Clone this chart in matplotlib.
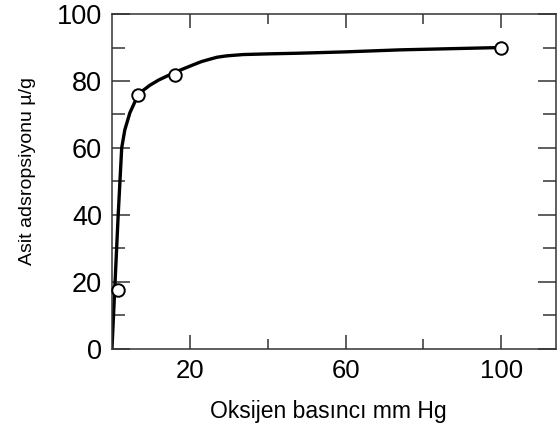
import matplotlib
matplotlib.use("Agg")
import matplotlib.pyplot as plt
from matplotlib.ticker import FixedLocator

plt.rcParams['font.family'] = ['Liberation Sans', 'DejaVu Sans']

# Fitted curve
curve_x = [0, 0.8, 1.6, 2.05, 2.5, 3.3, 4.6, 5.9, 6.7, 8, 9.7, 12, 14, 17, 20.8, 23, 25.1,
           27, 29.4, 33.7, 40, 48, 60, 74, 100]
curve_y = [0, 20, 40, 50, 60, 65.4, 70.5, 73.8, 75.4, 77.2, 78.7, 80.3, 81.4, 83.0, 84.8, 85.8, 86.5,
           87.1, 87.5, 87.9, 88.1, 88.3, 88.7, 89.3, 90]

# Measured points
pts_x = [1.5, 6.7, 16.2, 100]
pts_y = [17.6, 75.8, 81.8, 90]

x_major = [20, 60, 100]
x_minor = [40, 80]
x_labels = ['20', '60', '100']
y_major = [0, 20, 40, 60, 80, 100]
y_minor = [10, 30, 50, 70, 90]

fig = plt.figure(figsize=(5.57, 4.25), dpi=100)
ax = fig.add_axes([0.201, 0.179, 0.797, 0.788])

ax.plot(curve_x, curve_y, color='black', lw=2.4, solid_capstyle='round',
        solid_joinstyle='round', zorder=2)
ax.plot(pts_x, pts_y, 'o', ms=9, mfc='white', mec='black', mew=1.4, zorder=3, clip_on=False)

ax.set_xlim(0, 114)
ax.set_ylim(0, 100)
ax.xaxis.set_major_locator(FixedLocator(x_major))
ax.xaxis.set_minor_locator(FixedLocator(x_minor))
ax.set_xticklabels(x_labels)
ax.yaxis.set_major_locator(FixedLocator(y_major))
ax.yaxis.set_minor_locator(FixedLocator(y_minor))

ax.tick_params(axis='both', which='both', direction='in', top=True, right=True,
               color='#333333', width=1.1)
ax.tick_params(axis='y', which='major', length=13, pad=7, labelsize=19.5)
ax.tick_params(axis='y', which='minor', length=9.5)
ax.tick_params(axis='x', which='major', length=10, pad=7, labelsize=18.5)
ax.tick_params(axis='x', which='minor', length=7)

for s in ax.spines.values():
    s.set_color('#333333')
    s.set_linewidth(1.1)

ax.set_xlabel('Oksijen basıncı mm Hg', fontsize=16.5)
ax.xaxis.set_label_coords(0.487, -0.152)
ax.set_ylabel('Asit adsropsiyonu µ/g', fontsize=14)
ax.yaxis.set_label_coords(-0.17, 0.53)

fig.savefig('out.png', dpi=100)
